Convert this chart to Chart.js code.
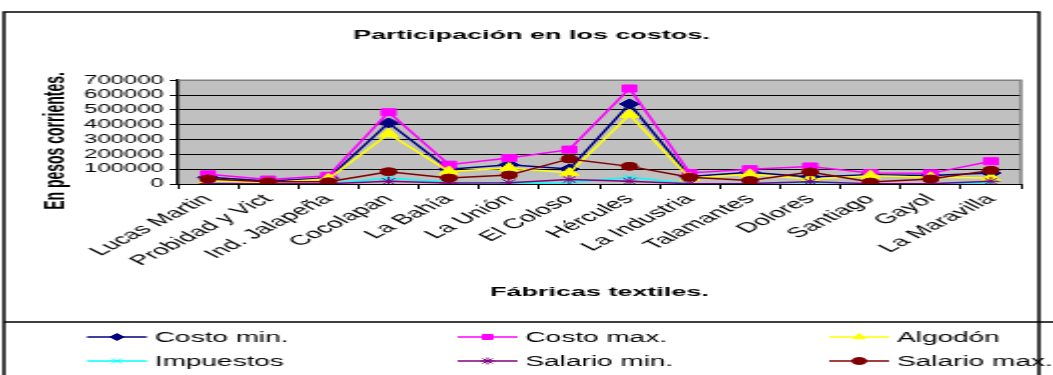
<!DOCTYPE html>
<html>
<head>
<meta charset="utf-8">
<script src="https://cdn.jsdelivr.net/npm/chart.js"></script>
<style>
html,body{margin:0;padding:0;background:#fff;overflow:hidden;}
/* the reference is an Excel chart stretched sideways, so draw narrow and stretch */
#wrap{width:527px;height:375px;transform:scaleX(1.998);transform-origin:0 0;}
</style>
</head>
<body>
<div id="wrap"><canvas id="grafica" width="527" height="375"></canvas></div>
<script>
// -------------------- datos
var fabricas = ['Lucas Martin','Probidad y Vict','Ind. Jalapeña','Cocolapan','La Bahía','La Unión','El Coloso',
	'Hércules','La Industria','Talamantes','Dolores','Santiago','Gayol','La Maravilla'];

var costoMin   = [45000, 20000, 40000, 412000, 100000, 130000, 101000, 540000, 51000, 80000, 48000, 63000, 58000, 74000];
var costoMax   = [65000, 30000, 55000, 484000, 130000, 175000, 232000, 644000, 74000, 100000, 118000, 74000, 72000, 153000];
var algodon    = [18000, 8000, 35000, 338000, 85000, 108000, 74000, 468000, 40000, 65000, 32000, 56000, 45000, 40000];
var impuestos  = [5000, 2000, 3000, 38000, 12000, 5000, 8000, 45000, 2000, 4000, 10000, 2000, 1000, 8000];
var salarioMin = [3000, 1000, 2000, 18000, 6000, 9000, 30000, 18000, 2000, 3000, 16000, 2000, 2000, 18000];
var salarioMax = [34000, 15000, 15000, 83000, 40000, 60000, 169000, 119000, 45000, 24000, 81000, 13000, 34000, 92000];

var yTicks = [0, 100000, 200000, 300000, 400000, 500000, 600000, 700000];

var series  = ['Costo min.','Costo max.','Algodón','Impuestos','Salario min.','Salario max.'];
var valores = [costoMin, costoMax, algodon, impuestos, salarioMin, salarioMax];
var colores = ['#000080','#FF00FF','#FFFF00','#00FFFF','#800080','#800000'];
var marcas  = ['rectRot','rect','triangle','crossRot','star','circle'];
var radios  = [5, 5, 5.5, 4, 4.5, 4];

var fuente = '"Liberation Sans", Arial, sans-serif';

var dtsheet = [];
for(var i = 0;i<series.length;i++){
	dtsheet[i] = {
		label : series[i],
		data : valores[i],
		borderColor : colores[i],
		backgroundColor : colores[i],
		borderWidth : 1.5,
		pointStyle : marcas[i],
		pointRadius : radios[i],
		pointBorderWidth : 1,
		pointBackgroundColor : colores[i],
		pointBorderColor : colores[i],
		fill : false,
		tension : 0,
		order : series.length - i
	};
}

// fondo gris del area de trazado
var fondo = {
	id : 'fondo',
	beforeDraw : function(chart){
		var a = chart.chartArea, ctx = chart.ctx;
		ctx.save();
		ctx.fillStyle = '#C0C0C0';
		ctx.fillRect(a.left, a.top, a.right - a.left, a.bottom - a.top);
		ctx.restore();
	},
	beforeDatasetsDraw : function(chart){
		var a = chart.chartArea, ctx = chart.ctx;
		ctx.save();
		ctx.strokeStyle = '#808080';
		ctx.lineWidth = 1.5;
		ctx.beginPath();
		ctx.moveTo(a.left, a.top);
		ctx.lineTo(a.right, a.top);
		ctx.lineTo(a.right, a.bottom);
		ctx.stroke();
		ctx.restore();
	}
};

// marco, titulo del eje y leyenda al estilo Excel
var legX = [43.5, 229, 415];
var legY = [337, 361];
var marco = {
	id : 'marco',
	afterDraw : function(chart){
		var ctx = chart.ctx, ds = chart.data.datasets;
		ctx.save();
		ctx.strokeStyle = '#000';
		ctx.lineWidth = 1.5;
		ctx.beginPath();
		ctx.moveTo(2, 376); ctx.lineTo(2, 12); ctx.lineTo(520, 12); ctx.lineTo(520, 376);
		ctx.moveTo(2, 322); ctx.lineTo(527, 322);
		ctx.stroke();

		// titulo del eje y (algo mas abajo que el centro del area)
		ctx.save();
		ctx.translate(28.5, 141);
		ctx.rotate(-Math.PI/2);
		ctx.font = 'bold 14px ' + fuente;
		ctx.fillStyle = '#000';
		ctx.textAlign = 'center';
		ctx.textBaseline = 'middle';
		ctx.fillText('En pesos corrientes.', 0, 0);
		ctx.restore();

		ctx.font = '14px ' + fuente;
		ctx.textBaseline = 'middle';
		ctx.textAlign = 'left';
		for(var i = 0;i<ds.length;i++){
			var x0 = legX[i%3], y = legY[Math.floor(i/3)];
			ctx.strokeStyle = ds[i].borderColor;
			ctx.fillStyle = ds[i].borderColor;
			ctx.lineWidth = 1.5;
			ctx.beginPath(); ctx.moveTo(x0, y); ctx.lineTo(x0 + 30, y); ctx.stroke();
			ctx.lineWidth = 1;
			Chart.helpers.drawPoint(ctx, {pointStyle: ds[i].pointStyle, radius: 3.5, borderWidth: 1, rotation: 0}, x0 + 15, y);
			ctx.fillStyle = '#000';
			ctx.fillText(ds[i].label, x0 + 34, y + 1);
		}
		ctx.restore();
	}
};

var ctx = document.getElementById('grafica').getContext('2d');
window.grafica = new Chart(ctx, {
	type : 'line',
	data : {
		labels : fabricas,
		datasets : dtsheet
	},
	options : {
		responsive : false,
		animation : false,
		layout : { padding : { top : 12, left : 21, right : 16, bottom : 75 } },
		plugins : {
			legend : { display : false },
			tooltip : { enabled : false },
			title : {
				display : true,
				text : 'Participación en los costos.',
				color : '#000',
				font : { family : fuente, size : 13.5, weight : 'bold' },
				padding : { top : 15, bottom : 37 }
			}
		},
		scales : {
			x : {
				offset : true,
				grid : { offset : true, drawOnChartArea : false, color : '#000', tickLength : 5 },
				border : { color : '#000', width : 1 },
				ticks : { autoSkip : false, minRotation : 45, maxRotation : 45, color : '#000', padding : 2,
					font : { family : fuente, size : 14 } },
				title : { display : true, text : 'Fábricas textiles.', color : '#000', padding : 0,
					font : { family : fuente, size : 13.5, weight : 'bold' } },
				afterFit : function(s){ s.height = 116; }
			},
			y : {
				min : 0,
				max : yTicks[yTicks.length-1],
				afterBuildTicks : function(s){ s.ticks = yTicks.map(function(v){ return {value : v}; }); },
				grid : {
					color : function(c){ return c.tick && c.tick.value == 700000 ? '#808080' : '#000'; },
					tickColor : '#000', tickLength : 4, lineWidth : 1
				},
				border : { color : '#000', width : 1.5 },
				ticks : { autoSkip : false, color : '#000', padding : 3, font : { family : fuente, size : 12 },
					callback : function(v){ return String(v); } },
				afterFit : function(s){ s.width = 68; }
			}
		}
	},
	plugins : [fondo, marco]
});
</script>
</body>
</html>
